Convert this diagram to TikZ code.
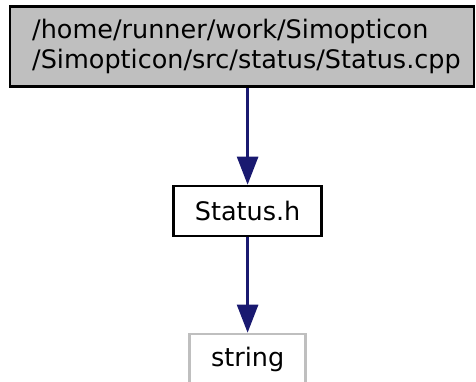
\documentclass[tikz,border=0pt]{standalone}
\usepackage{fontspec}
\setmainfont{DejaVu Sans}
\usetikzlibrary{arrows.meta}
\definecolor{edgeblue}{HTML}{191970}
\definecolor{fillgrey}{HTML}{BFBFBF}
\definecolor{linegrey}{HTML}{BFBFBF}
\tikzset{
  box/.style={draw=black, line width=2.6pt, inner sep=0pt, align=center,
    font=\fontsize{25.5}{29.5}\selectfont},
  lbl/.style={inner sep=0pt, align=left, font=\fontsize{25.5}{29.5}\selectfont},
  edge/.style={draw=edgeblue, line width=2.6pt,
    -{Triangle[length=28pt,width=21pt]}}
}
\begin{document}
\begin{tikzpicture}[x=1pt,y=-1pt]
\useasboundingbox (0,0) rectangle (476,381);
\clip (0,0) rectangle (476,381);
\node[box, fill=fillgrey, minimum width=464pt, minimum height=80pt] (cpp) at (242,46.5) {};
\node[lbl, anchor=west] (cpptext) at (32,46.5)
  {/home/runner/work/Simopticon\\/Simopticon/src/status/Status.cpp};
\node[box, fill=white, minimum width=148pt, minimum height=50pt] (statush) at (247.6,211) {Status.h};
\node[box, draw=linegrey, fill=white, minimum width=116pt, minimum height=50pt] (string) at (247.6,359) {string};
\draw[edge] (cpp.south -| statush.north) -- (statush.north);
\draw[edge] (statush.south) -- (string.north);
\end{tikzpicture}
\end{document}
